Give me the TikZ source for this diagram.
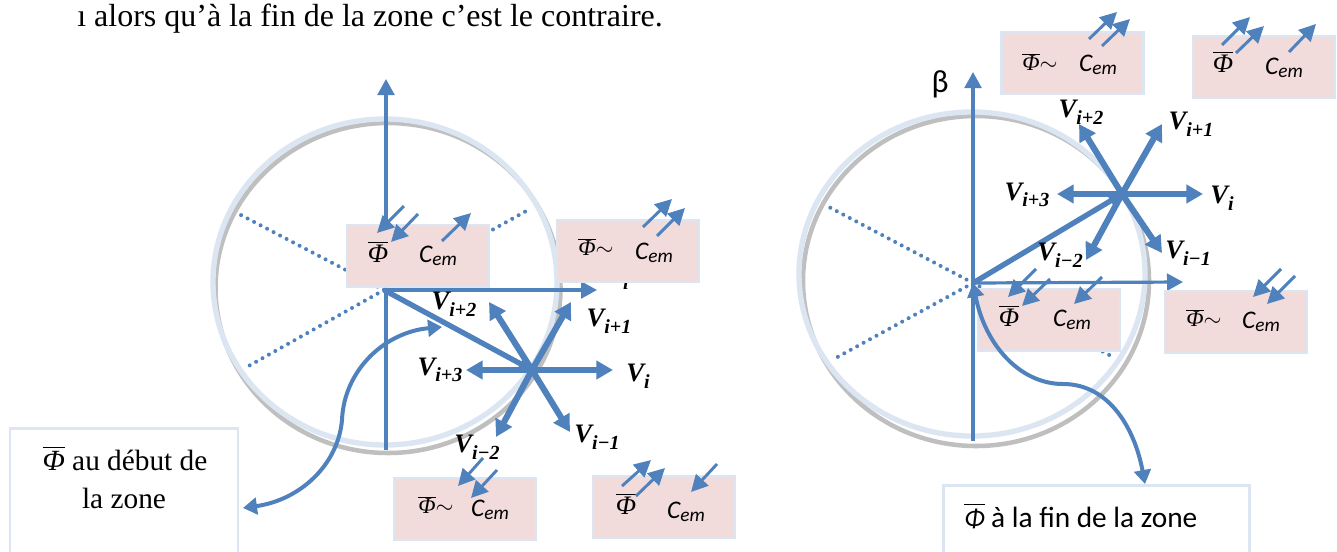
\documentclass[tikz,border=0pt]{standalone}
\usepackage{amsmath}
\usepackage{fontspec}
\setmainfont{Liberation Serif}
\newfontfamily\calfont{Carlito}
\usetikzlibrary{arrows.meta}
\definecolor{ln}{HTML}{4F81BD}
\definecolor{edge}{HTML}{DCE6F2}
\definecolor{pink}{HTML}{F2DCDB}
\definecolor{gry}{HTML}{BFBFBF}
\newcommand\myV[1]{{\fontsize{20}{20}\selectfont\bfseries\itshape V\raisebox{-5pt}{\fontsize{15}{15}\selectfont #1}}}
\newcommand\myPhi[1][14]{$\overline{\hbox{\fontsize{#1}{#1}\selectfont\itshape Φ}}$}
\newcommand\myPhiT{\myPhi[17]{\fontsize{16}{16}\selectfont$\sim$}}
\newcommand\myC{{\calfont\fontsize{19}{19}\selectfont\itshape C\raisebox{-2.5pt}{\fontsize{14.5}{14.5}\selectfont em}}}
\newcommand\conn[4]{\coordinate (#1s) at (#2);\coordinate (#1e) at (#3);\draw[#4] (#1s) -- (#1e);}
\tikzset{
  axisline/.style={draw=ln,line width=2.4pt,-{Triangle[length=12pt,width=12.5pt]}},
  stararrow/.style={draw=ln,line width=4.6pt,-{Triangle[length=12.5pt,width=13.5pt]}},
  smallarrow/.style={draw=ln,line width=2.2pt,-{Triangle[length=12.5pt,width=12.5pt]}},
  flux/.style={draw=ln,line width=4pt,-{Triangle[length=10pt,width=12pt]}},
  curvy/.style={draw=ln,line width=3pt,{Triangle[length=10.5pt,width=12.5pt]}-{Triangle[length=10.5pt,width=12.5pt]}},
  dots/.style={draw=ln,line width=3pt,line cap=round,dash pattern=on 0pt off 5.5pt},
  pinkbox/.style={draw=edge,fill=pink,line width=2.2pt,minimum width=106.5pt,minimum height=46.5pt,inner sep=0pt},
  whitebox/.style={draw=edge,fill=white,line width=2.2pt,inner sep=0pt},
  lbl/.style={inner sep=0pt,anchor=center}
}
\begin{document}
\begin{tikzpicture}[x=0.75pt,y=-0.75pt]
\useasboundingbox (0,0) rectangle (1337,551);
\clip (0,0) rectangle (1337,551);
\fill[white] (0,0) rectangle (1337,551);
\node[lbl,anchor=base west] (top) at (77,26) {\fontsize{24}{24}\selectfont ı alors qu’à la fin de la zone c’est le contraire.};
% left wheel
\coordinate (LO) at (384,290);
\coordinate (LS) at (532,370);
\draw[gry,line width=3.4pt] (388,288) ellipse[x radius=172.5,y radius=165];
\draw[edge,line width=4pt] (385,282) ellipse[x radius=172,y radius=163];
\coordinate (ld1) at (239,214);\coordinate (ld2) at (528,210);\coordinate (ld3) at (245,368);
\draw[dots] (LO) -- (ld1);
\draw[dots] (LO) -- (ld2);
\draw[dots] (LO) -- (ld3);
\conn{lv}{386,450}{386,79}{axisline}
\conn{lh}{LO}{597,290}{axisline}
\node[lbl] (lVi0) at (617,277) {\myV{i}};
\node[pinkbox] (lb1) at (418,256) {};
\node[pinkbox] (lb2) at (628,251) {};
\node[pinkbox] (lb3) at (465,509) {};
\node[pinkbox] (lb4) at (664,507) {};
\node[lbl] (t1) at (378,252) {\myPhi[20]};
\node[lbl] (c1) at (438,256) {\myC};
\node[lbl] (t2) at (596,247) {\myPhiT};
\node[lbl] (c2) at (654,253) {\myC};
\node[lbl] (t3) at (436,505) {\myPhiT};
\node[lbl] (c3) at (490,510) {\myC};
\node[lbl] (t4) at (626,504) {\myPhi[20]};
\node[lbl] (c4) at (686,512) {\myC};
% left star
\draw[flux] (LO) -- (LS);
\conn{s1}{LS}{613,370}{stararrow}
\conn{s2}{LS}{466,370}{stararrow}
\conn{s3}{LS}{571,302}{stararrow}
\conn{s4}{LS}{489,302}{stararrow}
\conn{s5}{LS}{570,432}{stararrow}
\conn{s6}{LS}{496,437}{stararrow}
\node[lbl] (nV1) at (638,376) {\myV{i}};
\node[lbl] (nV2) at (440,370) {\myV{i+3}};
\node[lbl] (nV3) at (609,321) {\myV{i+1}};
\node[lbl] (nV4) at (454,304) {\myV{i+2}};
\node[lbl] (nV5) at (597,437) {\myV{i−1}};
\node[lbl] (nV6) at (477,447) {\myV{i−2}};
\conn{a1}{404,206}{377,233}{smallarrow}
\conn{a2}{418,214}{391,242}{smallarrow}
\conn{a3}{442,241}{471,213}{smallarrow}
\conn{a4}{643,227}{672,199}{smallarrow}
\conn{a5}{657,236}{685,208}{smallarrow}
\conn{a6}{483,458}{458,486}{smallarrow}
\conn{a7}{497,470}{471,498}{smallarrow}
\conn{a8}{622,486}{651,460}{smallarrow}
\conn{a9}{636,496}{665,468}{smallarrow}
\conn{a10}{717,464}{691,492}{smallarrow}
% left callout
\node[whitebox,minimum width=171pt,minimum height=100pt] (lt) at (124,495) {};
\node[lbl] (lt1) at (125,458) {\fontsize{22}{22}\selectfont\myPhi[22] au début de};
\node[lbl] (lt2) at (124,498) {\fontsize{22}{22}\selectfont la zone};
\coordinate (lc1) at (442,327);
\coordinate (lc2) at (243,508);
\draw[curvy] (lc2) .. controls (300,500) and (338,465) .. (342,420) .. controls (344,370) and (385,332) .. (lc1);
% right wheel
\coordinate (RO) at (973,283);
\coordinate (RS) at (1122,194);
\draw[gry,line width=3.4pt] (976,281) ellipse[x radius=173,y radius=165];
\draw[edge,line width=4pt] (972,274) ellipse[x radius=173,y radius=162];
\coordinate (rd1) at (827,206);\coordinate (rd2) at (832,360);\coordinate (rd3) at (1115,358);
\draw[dots] (RO) -- (rd1);
\draw[dots] (RO) -- (rd2);
\draw[dots] (RO) -- (rd3);
\conn{rv}{973,441}{973,72}{axisline}
\conn{rh}{RO}{1183,282}{axisline}
\node[pinkbox] (rb1) at (1072.5,63) {};
\node[pinkbox] (rb2) at (1264,67) {};
\node[pinkbox] (rb3) at (1049,320) {};
\node[pinkbox] (rb4) at (1236,322) {};
\node[lbl] (t5) at (1040,62) {\myPhiT};
\node[lbl] (c5) at (1098,65) {\myC};
\node[lbl] (t6) at (1223,62) {\myPhi[20]};
\node[lbl] (c6) at (1284,68) {\myC};
\node[lbl] (t7) at (1009,316) {\myPhi[20]};
\node[lbl] (c7) at (1072,320) {\myC};
\node[lbl] (t8) at (1204,318) {\myPhiT};
\node[lbl] (c8) at (1261,322) {\myC};
\draw[flux] (RO) -- (RS);
\conn{r1}{RS}{1203,194}{stararrow}
\conn{r2}{RS}{1057,194}{stararrow}
\conn{r3}{RS}{1162,124}{stararrow}
\conn{r4}{RS}{1079,124}{stararrow}
\conn{r5}{RS}{1162,253}{stararrow}
\conn{r6}{RS}{1086,260}{stararrow}
\node[lbl] (mV1) at (1222,198) {\myV{i}};
\node[lbl] (mV2) at (1027,195) {\myV{i+3}};
\node[lbl] (mV3) at (1191,124) {\myV{i+1}};
\node[lbl] (mV4) at (1081,112) {\myV{i+2}};
\node[lbl] (mV5) at (1188,253) {\myV{i−1}};
\node[lbl] (mV6) at (1060,255) {\myV{i−2}};
\node[lbl] (beta) at (940,84) {\calfont\fontsize{24}{24}\selectfont β};
\conn{b1}{1089,39}{1117,12}{smallarrow}
\conn{b2}{1102,46}{1130,19}{smallarrow}
\conn{b3}{1222,45}{1250,17}{smallarrow}
\conn{b4}{1236,53}{1264,26}{smallarrow}
\conn{b5}{1289,52}{1316,24}{smallarrow}
\conn{b6}{1036,269}{1008,297}{smallarrow}
\conn{b7}{1050,279}{1022,306}{smallarrow}
\conn{b8}{1102,277}{1074,304}{smallarrow}
\conn{b9}{1281,269}{1253,297}{smallarrow}
\conn{b10}{1295,276}{1267,304}{smallarrow}
% right callout
\node[whitebox,minimum width=230pt,minimum height=70pt] (rt) at (1096.5,532) {};
\node[lbl,anchor=base west] (rt1) at (964,527) {\calfont\fontsize{22}{22}\selectfont\myPhi[20] à la fin de la zone};
\coordinate (rc1) at (973,283);
\coordinate (rc2) at (1145,484);
\draw[curvy] (rc1) .. controls (985,345) and (1020,384) .. (1063,384) .. controls (1110,384) and (1135,430) .. (rc2);
\end{tikzpicture}
\end{document}
